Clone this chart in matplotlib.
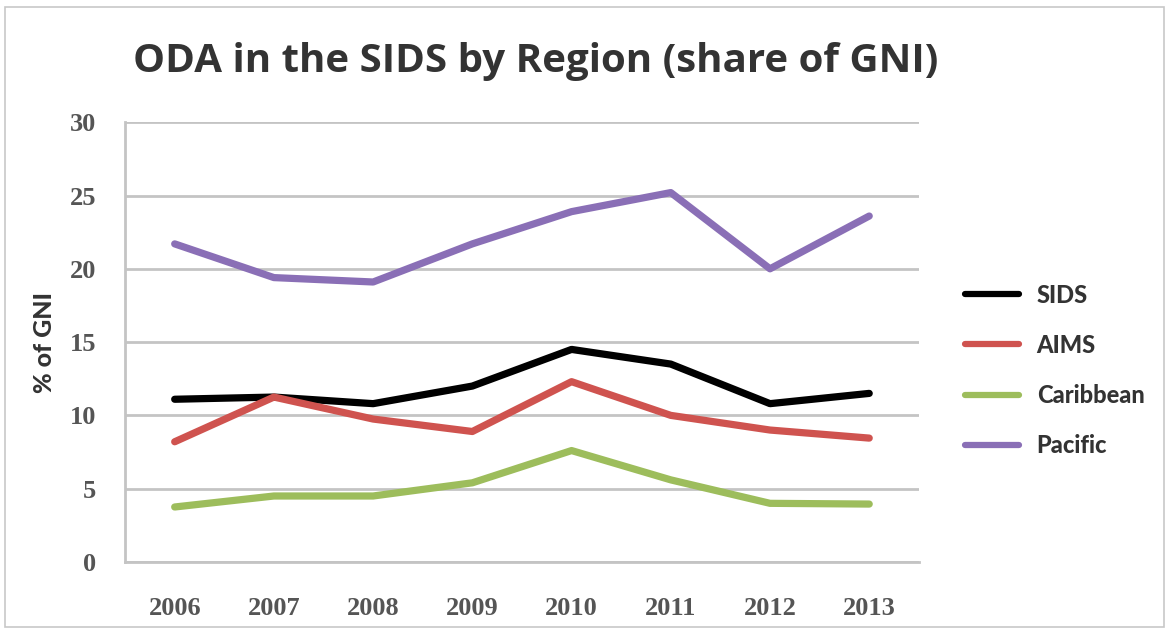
import matplotlib
matplotlib.use("Agg")
import matplotlib.pyplot as plt
from matplotlib.patches import Rectangle

years = ["2006", "2007", "2008", "2009", "2010", "2011", "2012", "2013"]
sids = [11.1, 11.25, 10.8, 12.0, 14.5, 13.5, 10.8, 11.5]
aims = [8.2, 11.25, 9.75, 8.9, 12.3, 10.0, 9.0, 8.45]
caribbean = [3.75, 4.5, 4.5, 5.4, 7.6, 5.6, 4.0, 3.95]
pacific = [21.7, 19.4, 19.1, 21.7, 23.9, 25.2, 20.0, 23.6]

series = [
    ("SIDS", sids, "#000000"),
    ("AIMS", aims, "#cf534f"),
    ("Caribbean", caribbean, "#9dbd5c"),
    ("Pacific", pacific, "#8a6fb6"),
]

fig = plt.figure(figsize=(11.69, 6.30), dpi=100)
fig.patches.append(Rectangle((0.004, 0.004), 0.992, 0.985, transform=fig.transFigure,
                             fill=False, edgecolor="#c8c8c8", lw=1.2))
ax = fig.add_axes([0.107, 0.108, 0.679, 0.698])

xs = list(range(len(years)))
for name, vals, col in series:
    ax.plot(xs, vals, color=col, lw=5.2, label=name, solid_capstyle="round",
            solid_joinstyle="round", zorder=3)

ax.set_xlim(-0.5, len(years) - 0.5)
ax.set_ylim(0, 30)
ax.set_yticks(range(0, 31, 5))
ax.set_xticks(xs)
ax.set_xticklabels(years)
ax.grid(axis="y", color="#c4c4c4", lw=2)
ax.set_axisbelow(True)
for s in ["top", "right"]:
    ax.spines[s].set_visible(False)
for s in ["left", "bottom"]:
    ax.spines[s].set_color("#c4c4c4")
    ax.spines[s].set_linewidth(2)
ax.tick_params(length=0, labelsize=19, labelcolor="#555555")
ax.tick_params(axis="x", pad=25)
ax.tick_params(axis="y", pad=21)
for lab in ax.get_xticklabels() + ax.get_yticklabels():
    lab.set_fontfamily("Liberation Serif")
    lab.set_fontweight("bold")

ax.set_ylabel("% of GNI", fontsize=18, fontweight=900, color="#333333",
              fontfamily="Lato", labelpad=10)

fig.text(0.458, 0.902, "ODA in the SIDS by Region (share of GNI)", ha="center", va="center",
         fontsize=29, fontweight="bold", color="#333333", fontfamily="Open Sans")

leg = ax.legend(loc="center left", bbox_to_anchor=(1.031, 0.436), frameon=False,
                handlelength=2.3, handletextpad=0.75, labelspacing=1.15,
                prop={"family": "Lato", "weight": 900, "size": 17})
for t in leg.get_texts():
    t.set_color("#333333")
for h in leg.get_lines():
    h.set_linewidth(4.5)

fig.savefig("out.png", dpi=100)
